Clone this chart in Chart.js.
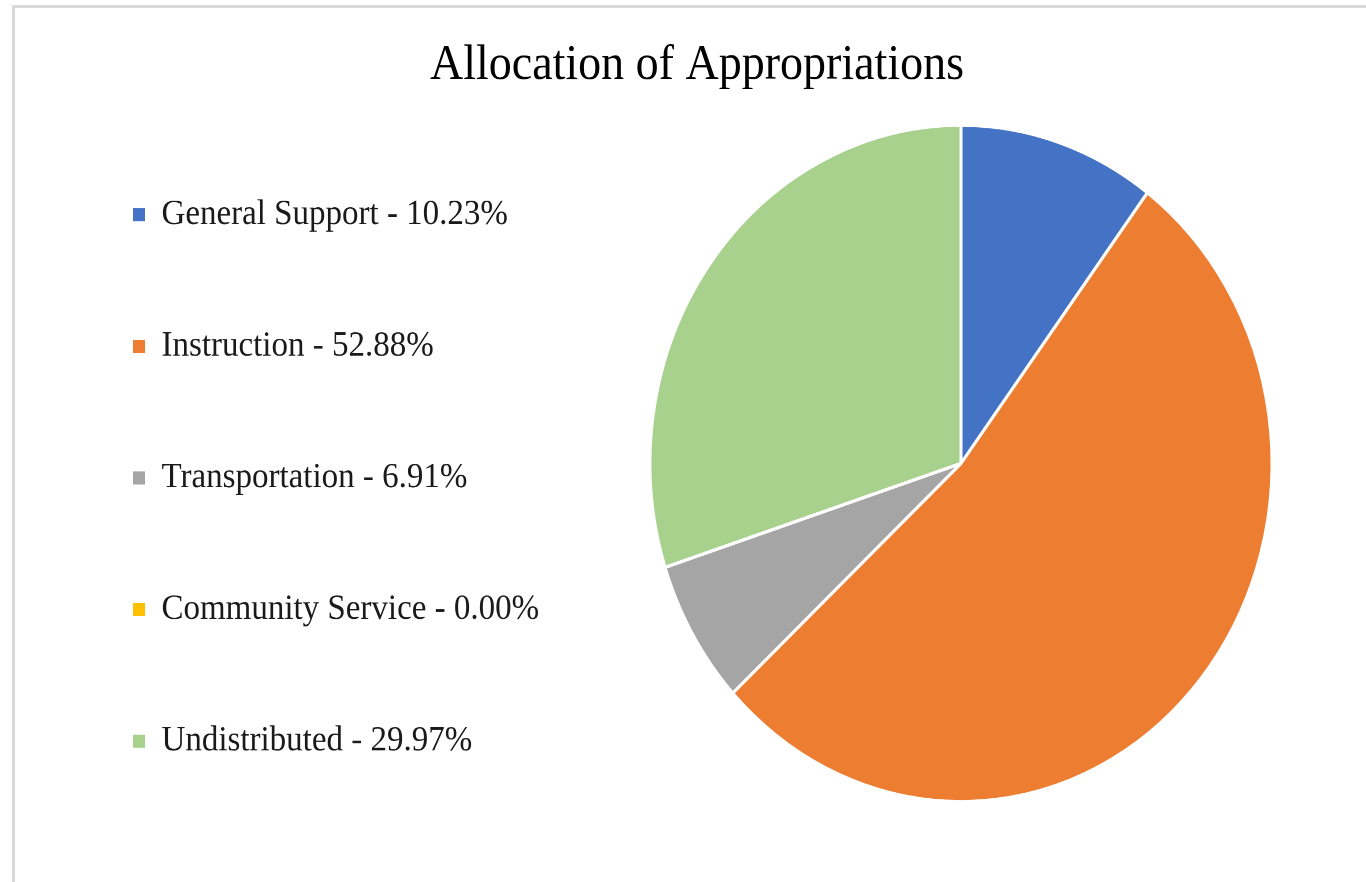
<!DOCTYPE html>
<html>
<head>
<meta charset="utf-8">
<title>Allocation of Appropriations</title>
<script src="https://cdn.jsdelivr.net/npm/chart.js@4.4.1/dist/chart.umd.min.js"></script>
<style>
    html, body { margin: 0; padding: 0; background: #fff; overflow: hidden; }
    .frame {
        position: absolute; left: 12px; top: 5px;
        width: 1400px; height: 920px;
        border: 3px solid #d9d9d9;
    }
    /* the reference is stretched vertically, so the chart is too */
    .wrap {
        position: absolute; left: 0; top: 0;
        width: 1366px; height: 811px;
        transform: scaleY(1.0875);
        transform-origin: top left;
    }
</style>
</head>
<body>
<div class="frame"></div>
<div class="wrap"><canvas id="allocChart"></canvas></div>

<script>
// ===============================
// Dados
// ===============================
const categorias = ['General Support', 'Instruction', 'Transportation', 'Community Service', 'Undistributed'];
const percentuais = [10.23, 52.88, 6.91, 0.00, 29.97];
const cores = ['#4472c4', '#ed7d31', '#a5a5a5', '#ffc000', '#a9d18e'];

const serif = "'Liberation Serif', 'DejaVu Serif', serif";

// largura fixa da legenda, para o gráfico ficar no lugar certo
const LARGURA_LEGENDA = 528;

const legendaLargura = {
    id: 'legendaLargura',
    beforeInit(chart) {
        const fitOriginal = chart.legend.fit;
        chart.legend.fit = function () {
            fitOriginal.call(this);
            this.width = LARGURA_LEGENDA;
        };
    }
};

document.addEventListener('DOMContentLoaded', function () {
    const ctx = document.getElementById('allocChart').getContext('2d');

    new Chart(ctx, {
        type: 'pie',
        data: {
            labels: categorias,
            datasets: [{
                data: percentuais,
                backgroundColor: cores,
                borderColor: '#ffffff',
                borderWidth: 3
            }]
        },
        plugins: [legendaLargura],
        options: {
            responsive: true,
            maintainAspectRatio: false,
            animation: false,
            devicePixelRatio: 2,
            radius: 311,
            layout: { padding: { left: 45, right: 17, top: 0, bottom: 25 } },
            plugins: {
                title: {
                    display: true,
                    text: 'Allocation of Appropriations',
                    color: '#000000',
                    font: { family: serif, size: 46, weight: 'normal' },
                    padding: { top: 33, bottom: -22 }
                },
                legend: {
                    position: 'left',
                    align: 'end',
                    labels: {
                        color: '#1a1a1a',
                        font: { family: serif, size: 33 },
                        boxWidth: 12,
                        boxHeight: 12,
                        padding: 88,
                        generateLabels: function (chart) {
                            const itens = Chart.overrides.pie.plugins.legend.labels.generateLabels(chart);
                            return itens.map((item, i) => {
                                item.text = categorias[i] + ' - ' + percentuais[i].toFixed(2) + '%';
                                item.lineWidth = 0;
                                item.hidden = false;
                                return item;
                            });
                        }
                    }
                },
                tooltip: { enabled: false }
            }
        }
    });
});
</script>
</body>
</html>
